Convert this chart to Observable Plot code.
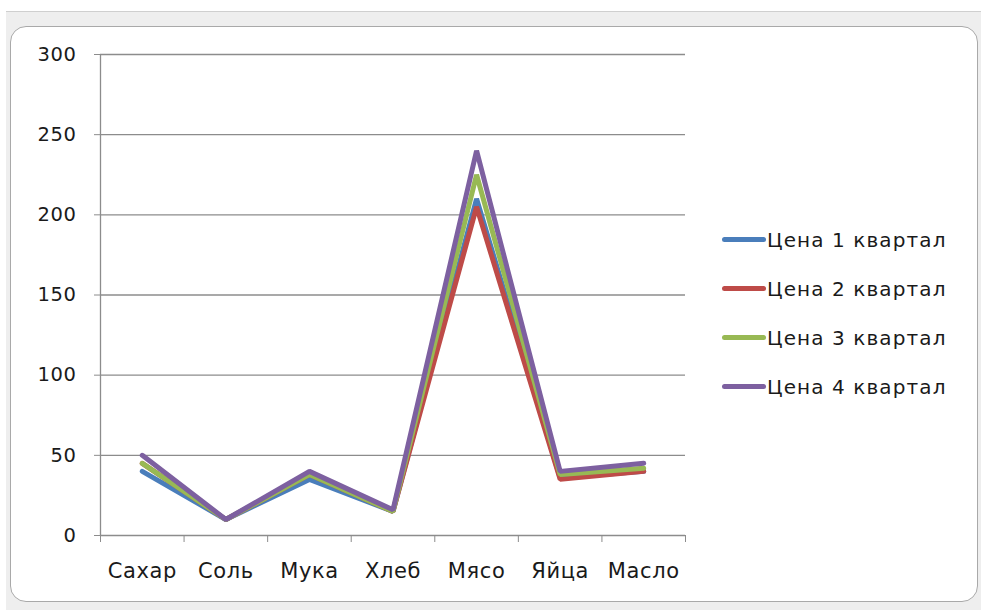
<!DOCTYPE html>
<html>
<head>
<meta charset="utf-8">
<script src="https://cdn.jsdelivr.net/npm/d3@7"></script>
<script src="https://cdn.jsdelivr.net/npm/@observablehq/plot@0.6"></script>
<style>
  html, body { margin: 0; padding: 0; width: 981px; height: 610px; overflow: hidden; background: #ffffff; font-family: "DejaVu Sans", sans-serif; }
  #sheet { position: absolute; left: 6px; top: 11px; width: 975px; height: 599px; background: #eeeeee; border-top: 1px solid #cfcfcf; }
  #frame { position: absolute; left: 10px; top: 26px; width: 966px; height: 574px; background: #fff; border: 1px solid #a9a9a9; border-radius: 16px; }
  #chart { position: absolute; left: 0; top: 0; }
  #legend { position: absolute; left: 722px; top: 215px; font-size: 20px; letter-spacing: 1.1px; color: #1a1a1a; }
  .row { display: flex; align-items: center; height: 49px; }
  .sw { width: 44px; height: 5px; border-radius: 3px; margin-right: 1px; }
  #chart svg text { letter-spacing: 0.6px; }
</style>
</head>
<body>
<div id="sheet"></div>
<div id="frame"></div>
<div id="chart"></div>
<div id="legend"></div>
<script>
const categories = ["Сахар", "Соль", "Мука", "Хлеб", "Мясо", "Яйца", "Масло"];
const seriesNames = ["Цена 1 квартал", "Цена 2 квартал", "Цена 3 квартал", "Цена 4 квартал"];
const q1 = [40, 10, 35, 15, 210, 36, 40];
const q2 = [45, 10, 38, 15, 205, 35, 40];
const q3 = [45, 10, 38, 15, 225, 38, 42];
const q4 = [50, 10, 40, 16, 240, 40, 45];
const colors = ["#4a7ebb", "#be4b48", "#98b954", "#7d60a0"];
const yTicks = [0, 50, 100, 150, 200, 250, 300];

const allSeries = [q1, q2, q3, q4];
const rows = allSeries.flatMap((vals, s) => vals.map((v, i) => ({i, value: v, series: seriesNames[s]})));
const idx = categories.map((_, i) => i);
const bounds = [...idx.map(i => i - 0.5), categories.length - 0.5];

const chart = Plot.plot({
  width: 981,
  height: 610,
  marginLeft: 100,
  marginRight: 296,
  marginTop: 54,
  marginBottom: 75,
  style: {fontFamily: "DejaVu Sans, sans-serif", fontSize: "19px", color: "#1a1a1a", background: "transparent"},
  x: {type: "linear", domain: [-0.5, categories.length - 0.5]},
  y: {domain: [0, 300]},
  color: {domain: seriesNames, range: colors},
  marks: [
    Plot.gridY(yTicks, {stroke: "#8c8c8c", strokeOpacity: 1, strokeWidth: 1.3}),
    Plot.ruleX([-0.5], {stroke: "#8c8c8c", strokeWidth: 1.3}),
    Plot.axisY(yTicks, {tickSize: 6, tickPadding: 18, stroke: "#8c8c8c", label: null, fill: "#1a1a1a", fontSize: 19.5}),
    Plot.axisX(bounds, {tickSize: 7, tickFormat: () => "", stroke: "#8c8c8c", label: null}),
    Plot.axisX(idx, {tickSize: 0, tickPadding: 28, tickFormat: i => categories[i], label: null, fill: "#1a1a1a", fontSize: 21}),
    Plot.lineY(rows, {x: "i", y: "value", z: "series", stroke: "series", strokeWidth: 5, strokeLinejoin: "miter", strokeLinecap: "round"})
  ]
});
document.getElementById("chart").append(chart);

const legend = document.getElementById("legend");
seriesNames.forEach((name, s) => {
  const row = document.createElement("div");
  row.className = "row";
  const sw = document.createElement("div");
  sw.className = "sw";
  sw.style.background = colors[s];
  const t = document.createElement("span");
  t.textContent = name;
  row.append(sw, t);
  legend.append(row);
});
</script>
</body>
</html>
